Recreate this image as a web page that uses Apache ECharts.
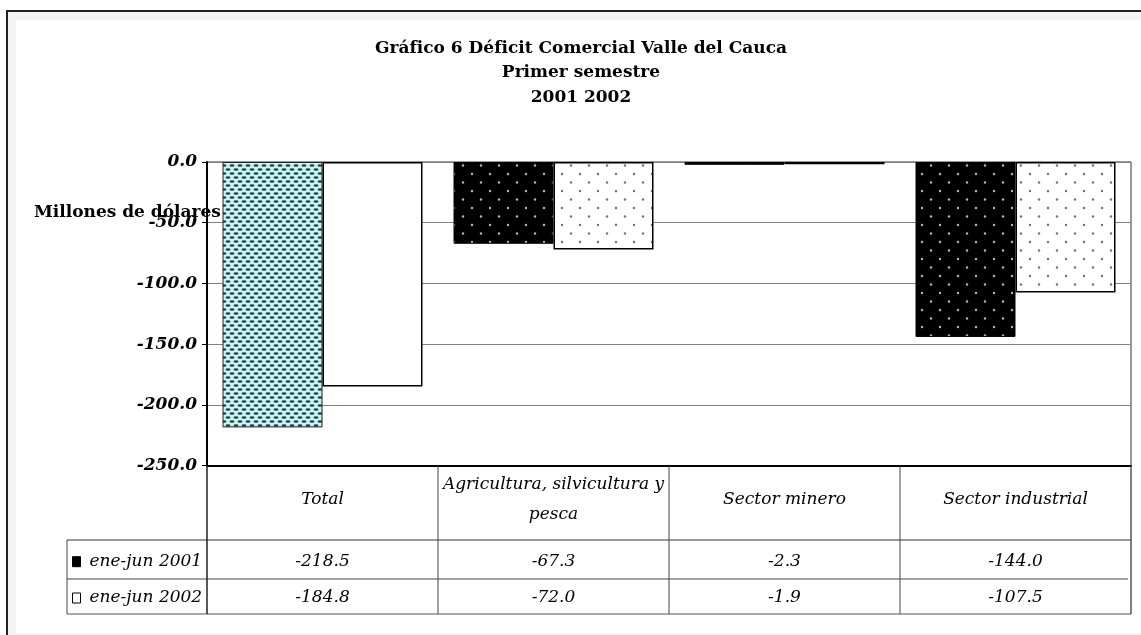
<!DOCTYPE html>
<html lang="es">
<head>
    <meta charset="UTF-8">
    <title>Déficit Comercial Valle del Cauca</title>
    <script src="https://cdn.jsdelivr.net/npm/echarts@6/dist/echarts.min.js"></script>
    <style>
        html, body { margin: 0; padding: 0; background: #fff; }
        #chart { width: 1141px; height: 635px; }
    </style>
</head>
<body>
<div id="chart"></div>
<script>
    // datos del gráfico
    const categories = ['Total', 'Agricultura, silvicultura y\npesca', 'Sector minero', 'Sector industrial'];
    const seriesNames = ['ene-jun 2001', 'ene-jun 2002'];
    const values2001 = [-218.5, -67.3, -2.3, -144.0];
    const values2002 = [-184.8, -72.0, -1.9, -107.5];
    const titleLines = ['Gráfico 6 Déficit Comercial Valle del Cauca', 'Primer semestre', '2001 2002'];
    const yAxisName = 'Millones de dólares';

    // geometría
    const GL = 207, GT = 162, GW = 924, GH = 303.7;
    const GB = GT + GH;
    const ROW1 = 540, ROW2 = 579, ROW3 = 614, TABLE_LEFT = 67;
    const FONT = 'DejaVu Serif';

    // tramas de relleno
    function makePattern(w, h, bg, draw) {
        const c = document.createElement('canvas');
        c.width = w; c.height = h;
        const ctx = c.getContext('2d');
        ctx.fillStyle = bg;
        ctx.fillRect(0, 0, w, h);
        draw(ctx);
        return c;
    }
    const cyanPat = makePattern(8, 8, '#c4f6f6', ctx => {
        ctx.fillStyle = '#2e4040';
        [[4, 1.5], [0, 5.5], [8, 5.5]].forEach(p => {
            ctx.beginPath();
            ctx.ellipse(p[0], p[1], 2.5, 1.2, 0, 0, Math.PI * 2);
            ctx.fill();
        });
    });
    function dots(bg, fg) {
        return makePattern(18, 17, bg, ctx => {
            ctx.fillStyle = fg;
            [[4, 4], [13, 12.5]].forEach(p => {
                ctx.beginPath();
                ctx.arc(p[0], p[1], 1.2, 0, Math.PI * 2);
                ctx.fill();
            });
        });
    }
    const blackDots = dots('#000', '#b8b8b8');
    const whiteDots = dots('#fff', '#707070');

    const data2001 = values2001.map((v, i) => ({
        value: v,
        itemStyle: i === 0
            ? { color: { image: cyanPat, repeat: 'repeat' }, borderColor: '#222', borderWidth: 1 }
            : { color: { image: blackDots, repeat: 'repeat' }, borderColor: '#000', borderWidth: 1 }
    }));
    const data2002 = values2002.map((v, i) => ({
        value: v,
        itemStyle: i === 0
            ? { color: '#fff', borderColor: '#000', borderWidth: 1.5 }
            : { color: { image: whiteDots, repeat: 'repeat' }, borderColor: '#000', borderWidth: 1.5 }
    }));

    const chart = echarts.init(document.getElementById('chart'));

    function line(x1, y1, x2, y2, color, w) {
        return { type: 'line', shape: { x1, y1, x2, y2 }, style: { stroke: color, lineWidth: w }, z: 50 };
    }
    const colW = GW / categories.length;
    const tableLines = [
        line(TABLE_LEFT, ROW1, GL + GW, ROW1, '#333', 1),
        line(TABLE_LEFT, ROW2, GL + GW - 3, ROW2, '#444', 1),
        line(TABLE_LEFT, ROW3, GL + GW, ROW3, '#555', 1.2),
        line(TABLE_LEFT, ROW1, TABLE_LEFT, ROW3, '#444', 1),
        line(GL, GB, GL, ROW3, '#222', 1.5),
        line(GL + GW, GB, GL + GW, ROW3, '#555', 1.5)
    ];
    for (let i = 1; i < categories.length; i++) {
        tableLines.push(line(GL + colW * i, GB, GL + colW * i, ROW3, '#444', 1));
    }

    const valueAxis = (vals, margin) => ({
        type: 'category',
        gridIndex: 0,
        position: 'bottom',
        data: categories,
        axisLine: { show: false, onZero: false },
        axisTick: { show: false },
        axisLabel: {
            interval: 0,
            margin: margin,
            color: '#000',
            fontFamily: FONT,
            fontStyle: 'italic',
            fontSize: 17,
            lineHeight: 20,
            formatter: (v, i) => vals[i].toFixed(1)
        }
    });

    const option = {
        animation: false,
        backgroundColor: '#fff',
        title: {
            text: titleLines.join('\n'),
            left: 581,
            top: 36,
            padding: 0,
            textAlign: 'center',
            textStyle: { fontFamily: FONT, fontWeight: 'bold', fontSize: 17, lineHeight: 24.5, color: '#000' }
        },
        legend: {
            data: [
                { name: seriesNames[0], icon: 'rect', itemStyle: { color: '#000', borderColor: '#000', borderWidth: 1 } },
                { name: seriesNames[1], icon: 'rect', itemStyle: { color: '#fff', borderColor: '#000', borderWidth: 1 } }
            ],
            orient: 'vertical',
            left: 72,
            top: 551.7,
            padding: 0,
            itemWidth: 8,
            itemHeight: 10,
            itemGap: 16.3,
            selectedMode: false,
            textStyle: { fontFamily: FONT, fontStyle: 'italic', fontSize: 17, lineHeight: 20, color: '#000', padding: [0, 0, 0, 4] }
        },
        grid: {
            left: GL, top: GT, width: GW, height: GH,
            show: true, borderColor: '#333', borderWidth: 1, backgroundColor: 'transparent'
        },
        xAxis: [
            {
                type: 'category',
                position: 'bottom',
                data: categories,
                axisLine: { show: true, onZero: false, lineStyle: { color: '#000', width: 2 } },
                axisTick: { show: false },
                axisLabel: {
                    interval: 0,
                    margin: 4,
                    color: '#000',
                    fontFamily: FONT,
                    fontStyle: 'italic',
                    fontSize: 17,
                    formatter: v => {
                        const parts = v.split('\n');
                        if (parts.length > 1) return parts.map(p => '{t|' + p + '}').join('\n');
                        return '{o|' + v + '}';
                    },
                    rich: {
                        t: { fontFamily: FONT, fontStyle: 'italic', fontSize: 17, lineHeight: 30, color: '#000' },
                        o: { fontFamily: FONT, fontStyle: 'italic', fontSize: 17, lineHeight: 60, color: '#000' }
                    }
                }
            },
            valueAxis(values2001, 86),
            valueAxis(values2002, 122)
        ],
        yAxis: {
            type: 'value',
            min: -250,
            max: 0,
            interval: 50,
            axisLine: { show: true, lineStyle: { color: '#000', width: 2 } },
            axisTick: { show: true, inside: false, length: 5, lineStyle: { color: '#000', width: 1 } },
            axisLabel: {
                margin: 10,
                color: '#000',
                fontFamily: FONT,
                fontStyle: 'italic',
                fontWeight: 'bold',
                fontSize: 17,
                formatter: v => v.toFixed(1)
            },
            splitLine: { show: true, lineStyle: { color: '#808080', width: 1 } }
        },
        series: [
            { name: seriesNames[0], type: 'bar', data: data2001, barWidth: 100, barGap: '0%', itemStyle: { color: '#000' } },
            { name: seriesNames[1], type: 'bar', data: data2002, barWidth: 100, barGap: '0%', itemStyle: { color: '#fff', borderColor: '#000' } }
        ],
        graphic: [
            { type: 'rect', shape: { x: 7, y: 11, width: 1160, height: 650 }, style: { fill: '#f4f4f4', stroke: '#222', lineWidth: 2 }, z: -100 },
            { type: 'rect', shape: { x: 16, y: 20, width: 1150, height: 613 }, style: { fill: '#fff' }, z: -99 },
            {
                type: 'text', x: 34, y: 213, z: 60,
                style: { text: yAxisName, font: 'bold 17px "DejaVu Serif"', fill: '#000', verticalAlign: 'middle' }
            }
        ].concat(tableLines)
    };

    chart.setOption(option);
</script>
</body>
</html>
